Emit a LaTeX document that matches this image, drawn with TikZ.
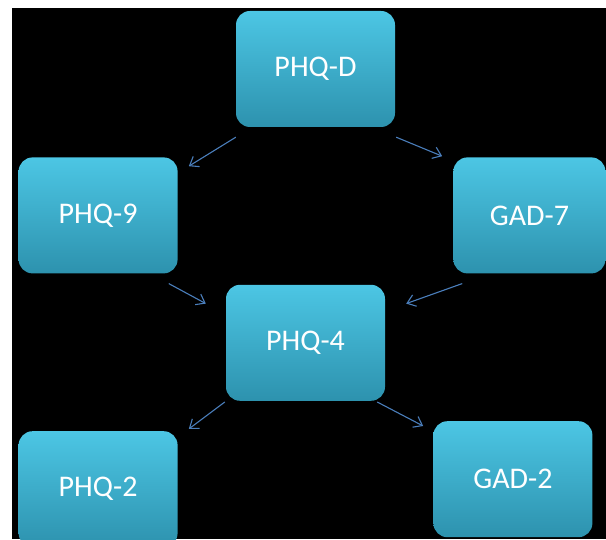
\documentclass[tikz,border=0pt]{standalone}
\usepackage{fontspec}
\setmainfont{Carlito}
\usepackage{tikz}
\usetikzlibrary{positioning, arrows.meta}
\definecolor{boxtop}{HTML}{4CC6E4}
\definecolor{boxmid}{HTML}{37AAC8}
\definecolor{boxbottom}{HTML}{2D92AE}
\definecolor{linkblue}{HTML}{4A7EBB}

\begin{document}
\begin{tikzpicture}[x=1pt, y=1pt,
    box/.style={rounded corners=14pt, top color=boxtop, middle color=boxmid, bottom color=boxbottom,
                minimum width=159pt, minimum height=116pt, inner sep=0pt, text=white,
                font=\fontsize{30}{36}\selectfont},
    link/.style={-{Straight Barb[length=8pt, width=12pt]}, linkblue, line width=1.1pt}]
  \useasboundingbox (0,0) rectangle (606,539);
  \fill[white] (0,0) rectangle (606,539);
  \fill[black] (12,0) rectangle (606,531);
  \begin{scope}
  \clip (12,0) rectangle (606,531);
  \node (phqd) [box] at (315.5,470) {PHQ-D};
  \node (phq9) [box, below left=30pt and 58pt of phqd] {PHQ-9};
  \node (gad7) [box, minimum width=152pt, below right=30pt and 58pt of phqd] {GAD-7};
  \node (phq4) [box, below right=11pt and 48pt of phq9] {PHQ-4};
  \node (phq2) [box, below left=30pt and 48pt of phq4] {PHQ-2};
  \node (gad2) [box, below right=20pt and 48pt of phq4] {GAD-2};
  \end{scope}
  \draw[link] ([yshift=-10pt]phqd.south west) -- ([xshift=11pt, yshift=-9pt]phq9.north east);
  \draw[link] ([xshift=1pt, yshift=-10pt]phqd.south east) -- ([xshift=-11pt, yshift=1pt]gad7.north west);
  \draw[link] ([xshift=-9pt, yshift=-10pt]phq9.south east) -- ([xshift=-20pt, yshift=-19pt]phq4.north west);
  \draw[link] ([xshift=9pt, yshift=-10pt]gad7.south west) -- ([xshift=21pt, yshift=-19pt]phq4.north east);
  \draw[link] ([xshift=-1pt, yshift=-1pt]phq4.south west) -- ([xshift=11pt, yshift=2pt]phq2.north east);
  \draw[link] ([xshift=-8pt, yshift=-1pt]phq4.south east) -- ([xshift=-10pt, yshift=-5pt]gad2.north west);
\end{tikzpicture}
\end{document}
